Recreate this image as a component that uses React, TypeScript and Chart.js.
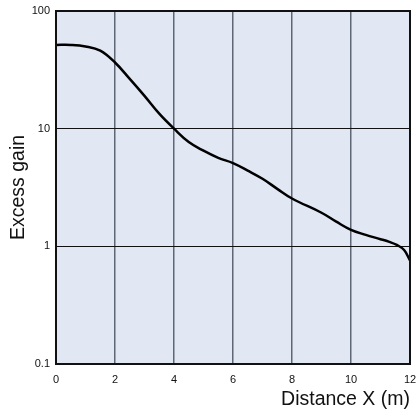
import React, { useEffect, useRef } from "react";
import { Chart, registerables } from "chart.js";

Chart.register(...registerables);

const distances = [0, 0.5, 1, 1.5, 2, 2.5, 3, 3.5, 4, 4.5, 5, 5.5, 6, 6.5, 7, 7.5, 8, 9, 9.5, 10, 10.5, 11, 11.3, 11.55, 11.8, 12];
const gains = [51.5, 51.5, 50, 46, 36.5, 26.5, 19, 13.4, 10, 7.7, 6.5, 5.65, 5.1, 4.4, 3.75, 3.08, 2.55, 1.93, 1.62, 1.38, 1.25, 1.15, 1.09, 1.03, 0.93, 0.76];
const xTicks = [0, 2, 4, 6, 8, 10, 12];
const yTicks = [0.1, 1, 10, 100];
const xTitle = "Distance X (m)";
const yTitle = "Excess gain";

const FONT = "'Liberation Sans', Arial, sans-serif";

const framePlugin = {
  id: "frame",
  beforeDraw(chart: any) {
    const { ctx, chartArea: a } = chart;
    ctx.save();
    ctx.fillStyle = "#e1e8f4";
    ctx.fillRect(a.left, a.top, a.right - a.left, a.bottom - a.top);
    ctx.restore();
  },
  afterDatasetsDraw(chart: any) {
    const { ctx, chartArea: a } = chart;
    ctx.save();
    ctx.strokeStyle = "#111";
    ctx.lineWidth = 2;
    ctx.strokeRect(a.left, a.top, a.right - a.left, a.bottom - a.top);
    ctx.restore();
  },
};

export default function App() {
  const ref = useRef<HTMLCanvasElement>(null);
  useEffect(() => {
    if (!ref.current) return;
    const chart = new Chart(ref.current, {
      type: "line",
      data: {
        datasets: [
          {
            data: distances.map((x, i) => ({ x, y: gains[i] })),
            borderColor: "#000",
            borderWidth: 2.5,
            pointRadius: 0,
            tension: 0.4,
            fill: false,
          },
        ],
      },
      options: {
        animation: false,
        responsive: false,
        maintainAspectRatio: false,
        layout: { padding: { top: 11, right: 7, left: 0, bottom: 0 } },
        plugins: { legend: { display: false }, tooltip: { enabled: false } },
        scales: {
          x: {
            type: "linear",
            min: 0,
            max: 12,
            afterBuildTicks: (s: any) => {
              s.ticks = xTicks.map((v) => ({ value: v }));
            },
            afterFit: (s: any) => {
              s.height = 51;
              s.paddingLeft = 0;
              s.paddingRight = 0;
            },
            ticks: {
              color: "#111",
              font: { family: FONT, size: 11 },
              padding: 9,
              maxRotation: 0,
            },
            grid: {
              color: (c: any) => (c.tick && c.tick.value > 0 && c.tick.value < 12 ? "#5f6676" : "rgba(0,0,0,0)"),
              lineWidth: 1.5,
              drawTicks: false,
            },
            border: { display: false },
            title: {
              display: true,
              text: xTitle,
              align: "end",
              color: "#111",
              font: { family: FONT, size: 19.5 },
              padding: { top: 4, bottom: 4 },
            },
          },
          y: {
            type: "logarithmic",
            min: 0.1,
            max: 100,
            afterBuildTicks: (s: any) => {
              s.ticks = yTicks.map((v) => ({ value: v }));
            },
            afterFit: (s: any) => {
              s.width = 56;
              s.paddingTop = 0;
              s.paddingBottom = 0;
            },
            ticks: {
              color: "#111",
              font: { family: FONT, size: 11 },
              padding: 6,
              callback: (v: any) => String(v),
            },
            grid: {
              color: (c: any) => (c.tick && c.tick.value > 0.1 && c.tick.value < 100 ? "#111" : "rgba(0,0,0,0)"),
              lineWidth: 1,
              drawTicks: false,
            },
            border: { display: false },
            title: {
              display: true,
              text: yTitle,
              color: "#111",
              font: { family: FONT, size: 19.5 },
              padding: { top: 7, bottom: 6 },
            },
          },
        },
      },
      plugins: [framePlugin],
    } as any);
    return () => chart.destroy();
  }, []);
  return (
    <div style={{ position: "fixed", left: 0, top: 0, width: 417, height: 415, background: "#fff" }}>
      <canvas ref={ref} width={417} height={415} style={{ width: 417, height: 415 }} />
    </div>
  );
}
